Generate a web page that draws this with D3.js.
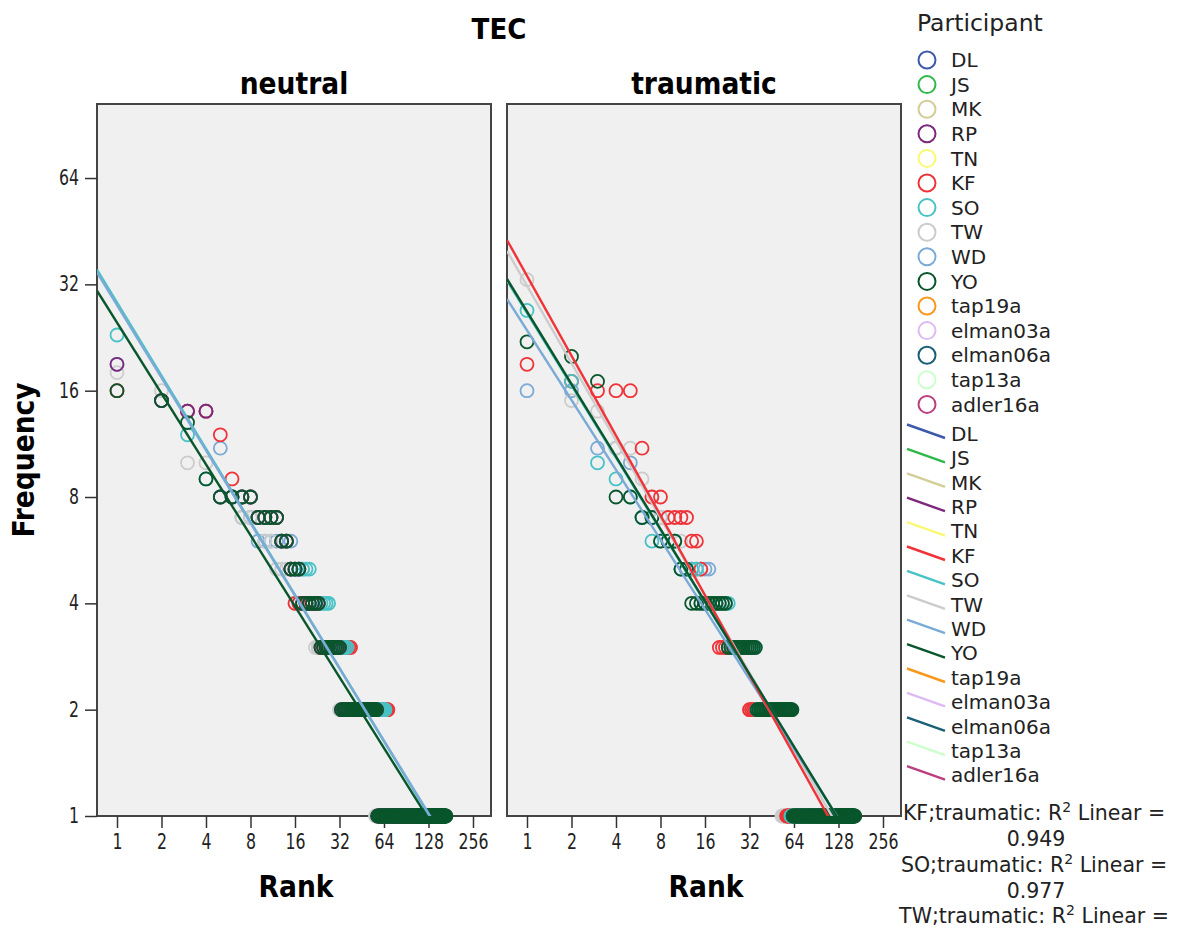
<!DOCTYPE html>
<html>
<head>
<meta charset="utf-8">
<script src="https://cdn.jsdelivr.net/npm/d3@7"></script>
<style>
  body { margin: 0; background: #fff; }
  .cond { font-family: 'DejaVu Sans Condensed', 'DejaVu Sans', sans-serif; font-stretch: condensed; }
  .reg { font-family: 'DejaVu Sans', sans-serif; }
</style>
</head>
<body>
<svg id="chart" width="1178" height="934"></svg>
<script>
// Participants and their colours (legend order)
const participants = ["DL", "JS", "MK", "RP", "TN", "KF", "SO", "TW", "WD", "YO",
                      "tap19a", "elman03a", "elman06a", "tap13a", "adler16a"];
const colors = ["#3E58AC", "#2EB848", "#D3CE97", "#7C287D", "#FBF873", "#EF3338", "#48C2C5", "#CCCCCC",
                "#7AAAD5", "#0A562C", "#F8981D", "#DDBAF1", "#1A5F76", "#CCFFCC", "#BB3F7F"];

// Word frequency lists, as [frequency, number of words] in rank order
const neutral_WD = [[19,1],[15,1],[14,2],[11,1],[8,1],[7,2],[6,7],[5,3],[4,4],[3,12],[2,26],[1,105]];
const neutral_TW = [[18,1],[16,1],[10,2],[8,2],[7,3],[6,2],[5,4],[4,6],[3,10],[2,24],[1,79]];
const neutral_KF = [[16,1],[15,1],[14,2],[12,1],[9,1],[8,2],[7,4],[6,2],[5,1],[4,8],[3,15],[2,30],[1,82]];
const neutral_SO = [[23,1],[15,1],[12,1],[9,1],[8,4],[7,4],[6,2],[5,6],[4,7],[3,9],[2,29],[1,85]];
const neutral_RP = [[19,1],[15,1],[14,2],[8,4],[7,4],[6,2],[5,3],[4,6],[3,9],[2,25],[1,73]];
const neutral_YO = [[16,1],[15,1],[13,1],[9,1],[8,4],[7,4],[6,2],[5,3],[4,6],[3,9],[2,25],[1,111]];

const trauma_WD = [[16,2],[11,2],[10,1],[7,3],[6,2],[5,7],[4,5],[3,11],[2,25],[1,92]];
const trauma_TW = [[33,1],[15,1],[14,1],[11,2],[9,1],[8,1],[7,2],[6,2],[5,4],[4,7],[3,9],[2,21],[1,78]];
const trauma_KF = [[19,1],[17,1],[16,3],[11,1],[8,2],[7,4],[6,2],[5,1],[4,4],[3,12],[2,25],[1,70]];
const trauma_SO = [[27,1],[17,1],[10,1],[9,1],[8,1],[7,1],[6,4],[5,4],[4,9],[3,12],[2,25],[1,80]];
const trauma_YO = [[22,1],[20,1],[17,1],[8,2],[7,2],[6,3],[5,2],[4,10],[3,13],[2,27],[1,103]];

// Linear fits of log2(freq) on log2(rank): [participant, intercept, slope]
const neutralFits = [["SO", 4.83, -0.688], ["WD", 4.806, -0.683], ["YO", 4.641, -0.667]];
const traumaFits = [["SO", 4.73, -0.680], ["TW", 4.987, -0.728], ["WD", 4.568, -0.656],
                    ["KF", 5.080, -0.751], ["YO", 4.744, -0.682]];

const r2Labels = ["KF;traumatic", "SO;traumatic", "TW;traumatic"];
const r2Values = ["0.949", "0.977", ""];

// Axis ranges and ticks
const rankDomain = [0.7324, 338.9];
const freqDomain = [1, 103.7];
const rankTicks = [1, 2, 4, 8, 16, 32, 64, 128, 256];
const freqTicks = [1, 2, 4, 8, 16, 32, 64];

const panels = [
  { title: "neutral", left: 97, fits: neutralFits,
    series: [["WD", neutral_WD], ["TW", neutral_TW], ["KF", neutral_KF], ["SO", neutral_SO], ["RP", neutral_RP], ["YO", neutral_YO]] },
  { title: "traumatic", left: 507, fits: traumaFits,
    series: [["WD", trauma_WD], ["TW", trauma_TW], ["KF", trauma_KF], ["SO", trauma_SO], ["YO", trauma_YO]] }
];

const panelW = 394, plotTop = 104, plotBottom = 816;
const color = d3.scaleOrdinal().domain(participants).range(colors);

// Expand a frequency list into rank/frequency points
function expand(spec) {
  const pts = [];
  let r = 1;
  spec.forEach(([f, n]) => { for (let i = 0; i < n; i++) pts.push({ rank: r++, freq: f }); });
  return pts;
}

// Narrow, tall tick labels like the original
function styleTicks(axisG) {
  axisG.select(".domain").remove();
  axisG.selectAll("line").attr("stroke", "#333").attr("stroke-width", 1.5);
  axisG.selectAll("text")
    .attr("class", "cond").attr("fill", "#222")
    .style("font-size", "20.5px")
    .attr("textLength", function () { return this.textContent.length * 10; })
    .attr("lengthAdjust", "spacingAndGlyphs");
}

const svg = d3.select("#chart");

const y = d3.scaleLog().base(2).domain(freqDomain).range([plotBottom, plotTop]);

// Main title
svg.append("text").attr("class", "cond")
  .attr("x", 499).attr("y", 39)
  .attr("text-anchor", "middle")
  .style("font-size", "29px").style("font-weight", "bold")
  .text("TEC");

panels.forEach((p, pi) => {
  const x = d3.scaleLog().base(2).domain(rankDomain).range([p.left, p.left + panelW]);
  const g = svg.append("g");

  // Panel background and frame
  g.append("rect")
    .attr("x", p.left).attr("y", plotTop)
    .attr("width", panelW).attr("height", plotBottom - plotTop)
    .attr("fill", "#F0F0F0")
    .attr("stroke", "#444").attr("stroke-width", 2);

  // Clip for fit lines
  svg.append("clipPath").attr("id", "clip" + pi)
    .append("rect")
    .attr("x", p.left).attr("y", plotTop)
    .attr("width", panelW).attr("height", plotBottom - plotTop);

  // Panel title
  g.append("text").attr("class", "cond")
    .attr("x", p.left + panelW / 2).attr("y", 94)
    .attr("text-anchor", "middle")
    .style("font-size", "29.5px").style("font-weight", "bold")
    .text(p.title);

  // X axis
  const xAxis = g.append("g")
    .attr("transform", `translate(0,${plotBottom})`)
    .call(d3.axisBottom(x).tickValues(rankTicks).tickFormat(d3.format("d")).tickSize(12).tickPadding(6));
  styleTicks(xAxis);

  // X axis title
  g.append("text").attr("class", "cond")
    .attr("x", p.left + panelW / 2 + 2).attr("y", 897)
    .attr("text-anchor", "middle")
    .style("font-size", "29.5px").style("font-weight", "bold")
    .text("Rank");

  // Points
  p.series.forEach(([name, spec]) => {
    g.append("g").selectAll("circle")
      .data(expand(spec))
      .enter()
      .append("circle")
      .attr("cx", d => x(d.rank))
      .attr("cy", d => y(d.freq))
      .attr("r", 6.5)
      .attr("fill", "none")
      .attr("stroke", color(name))
      .attr("stroke-width", 1.8);
  });

  // Fit lines
  const lg = g.append("g").attr("clip-path", `url(#clip${pi})`);
  p.fits.forEach(([name, a, b]) => {
    const pts = rankDomain.map(r => ({ rank: r, freq: Math.pow(2, a + b * Math.log2(r)) }));
    lg.append("path")
      .datum(pts)
      .attr("fill", "none")
      .attr("stroke", color(name))
      .attr("stroke-width", 2.4)
      .attr("d", d3.line().x(d => x(d.rank)).y(d => y(d.freq)));
  });
});

// Y axis (left panel only)
const yAxis = svg.append("g")
  .attr("transform", `translate(${panels[0].left},0)`)
  .call(d3.axisLeft(y).tickValues(freqTicks).tickFormat(d3.format("d")).tickSize(12).tickPadding(6));
styleTicks(yAxis);

svg.append("text").attr("class", "cond")
  .attr("transform", "translate(34,460) rotate(-90)")
  .attr("text-anchor", "middle")
  .style("font-size", "29.5px").style("font-weight", "bold")
  .text("Frequency");

// Legend
const legend = svg.append("g").attr("class", "reg");
legend.append("text")
  .attr("x", 917).attr("y", 31)
  .style("font-size", "23.5px").attr("fill", "#222")
  .text("Participant");

participants.forEach((name, i) => {
  const cy = 60 + i * 24.6;
  legend.append("circle")
    .attr("cx", 927).attr("cy", cy).attr("r", 8.5)
    .attr("fill", "none").attr("stroke", color(name)).attr("stroke-width", 2);
  legend.append("text")
    .attr("x", 951).attr("y", cy).attr("dy", "0.36em")
    .style("font-size", "20px").attr("fill", "#222")
    .text(name);
});

participants.forEach((name, i) => {
  const cy = 433.5 + i * 24.4;
  legend.append("line")
    .attr("x1", 907).attr("y1", cy - 9).attr("x2", 945).attr("y2", cy + 4.5)
    .attr("stroke", color(name)).attr("stroke-width", 2.4);
  legend.append("text")
    .attr("x", 951).attr("y", cy).attr("dy", "0.36em")
    .style("font-size", "20px").attr("fill", "#222")
    .text(name);
});

// R-squared annotations
r2Labels.forEach((lab, i) => {
  const t = svg.append("text").attr("class", "reg")
    .attr("x", 1034).attr("y", 820 + i * 51.5)
    .attr("text-anchor", "middle")
    .style("font-size", "20.5px").attr("fill", "#222");
  t.append("tspan").text(lab + ": R");
  t.append("tspan").attr("baseline-shift", "super").style("font-size", "14px").text("2");
  t.append("tspan").text(" Linear =");
  if (r2Values[i]) {
    svg.append("text").attr("class", "reg")
      .attr("x", 1036).attr("y", 846 + i * 51.5)
      .attr("text-anchor", "middle")
      .style("font-size", "20.5px").attr("fill", "#222")
      .text(r2Values[i]);
  }
});
</script>
</body>
</html>
